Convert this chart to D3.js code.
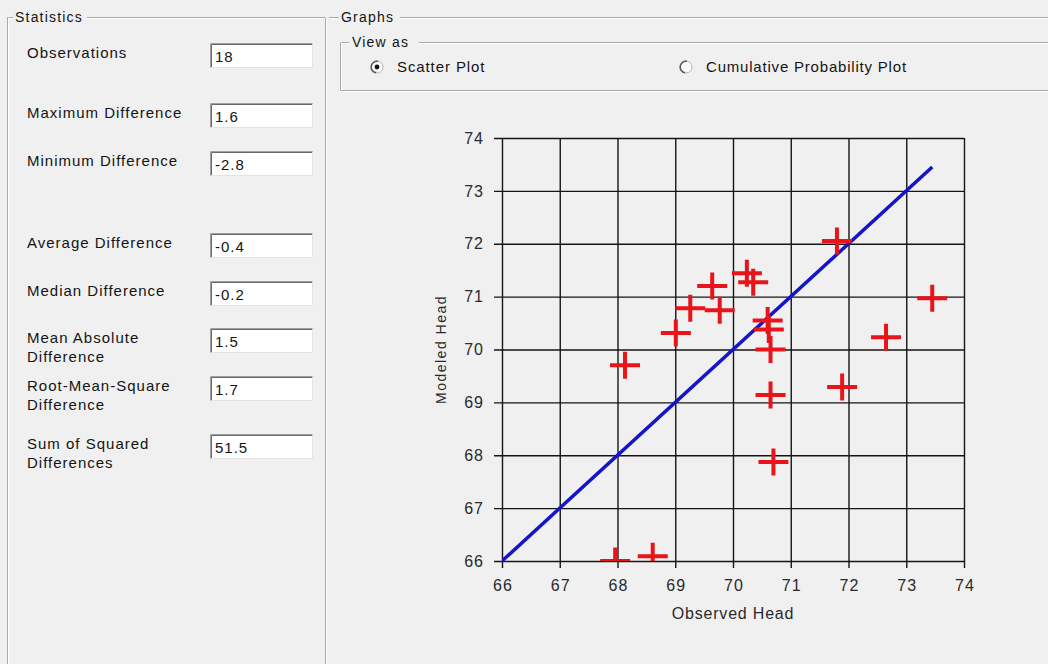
<!DOCTYPE html>
<html>
<head>
<meta charset="utf-8">
<script src="https://cdn.jsdelivr.net/npm/d3@7"></script>
<style>
  body { margin: 0; background: #f0f0f0; }
  svg { display: block; font-family: "Liberation Sans", Arial, sans-serif; }
</style>
</head>
<body>
<div class="canvas"></div>
<script>
// observed vs modeled heads
const observed = [71.8, 70.24, 70.35, 69.64, 69.26, 69.77, 69.01, 70.6, 70.62, 70.65, 70.65, 70.7, 73.45, 72.65, 71.89, 68.13, 67.96, 68.61];
const modeled = [72.05, 71.44, 71.27, 71.2, 70.78, 70.74, 70.31, 70.55, 70.38, 70.0, 69.14, 67.87, 70.97, 70.23, 69.29, 69.7, 66.0, 66.09];

const statNames = ['Observations', 'Maximum Difference', 'Minimum Difference', 'Average Difference',
  'Median Difference', 'Mean Absolute\nDifference', 'Root-Mean-Square\nDifference', 'Sum of Squared\nDifferences'];
const statValues = ['18', '1.6', '-2.8', '-0.4', '-0.2', '1.5', '1.7', '51.5'];

const xTicks = [66, 67, 68, 69, 70, 71, 72, 73, 74];
const yTicks = [66, 67, 68, 69, 70, 71, 72, 73, 74];
const viewOptions = ['Scatter Plot', 'Cumulative Probability Plot'];

// layout
const width = 1048, height = 664;
const rowTops = [43, 103, 151, 233, 281, 328, 376, 434];
const plot = { left: 502, right: 964, top: 138, bottom: 561 };
const ink = '#141414';

const svg = d3.select('.canvas')
  .append('svg')
  .attr('width', width)
  .attr('height', height);

svg.append('rect').attr('width', width).attr('height', height).attr('fill', '#f0f0f0');

// etched line helper (windows group box look)
const etched = (x1, y1, x2, y2) => {
  svg.append('line').attr('x1', x1).attr('y1', y1).attr('x2', x2).attr('y2', y2)
    .attr('stroke', '#a8a8a8').attr('stroke-width', 1);
  const dx = x1 === x2 ? 1 : 0, dy = y1 === y2 ? 1 : 0;
  svg.append('line').attr('x1', x1 + dx).attr('y1', y1 + dy).attr('x2', x2 + dx).attr('y2', y2 + dy)
    .attr('stroke', '#ffffff').attr('stroke-width', 1);
};

const label = (xPos, yPos, txt, size, spacing) =>
  svg.append('text').attr('x', xPos).attr('y', yPos).attr('dy', '0.35em')
    .attr('font-size', size).attr('letter-spacing', spacing).attr('fill', ink).text(txt);

// Statistics group box
etched(7.5, 17.5, 13, 17.5);
etched(87, 17.5, 325.5, 17.5);
etched(7.5, 17.5, 7.5, height);
etched(325.5, 17.5, 325.5, height);
label(15, 17, 'Statistics', 14, 1.2);

// Graphs group box
etched(329, 17.5, 339, 17.5);
etched(400, 17.5, width, 17.5);
label(341, 17, 'Graphs', 14, 1.2);

// View as group box
etched(340.5, 42.5, 349, 42.5);
etched(419, 42.5, width, 42.5);
etched(340.5, 42.5, 340.5, 90.5);
etched(340.5, 90.5, width, 90.5);
label(352, 42, 'View as', 14, 1.2);

// radio buttons
const radioX = [377, 686];
viewOptions.forEach((name, i) => {
  const g = svg.append('g').attr('transform', `translate(${radioX[i]}, 67)`);
  g.append('circle').attr('r', 6).attr('fill', '#fbfbfb').attr('stroke', '#b4b4b4').attr('stroke-width', 1);
  g.append('path').attr('d', d3.arc()({ innerRadius: 5, outerRadius: 6.6, startAngle: -Math.PI * 0.95, endAngle: Math.PI * 0.05 }))
    .attr('fill', '#5a5a5a');
  if (i === 0) g.append('circle').attr('r', 2.4).attr('fill', '#111');
  label(radioX[i] + 20, 67, name, 15, i === 0 ? 0.9 : 0.8);
});

// statistics rows
statNames.forEach((name, i) => {
  const top = rowTops[i];
  name.split('\n').forEach((line, j) => {
    label(27, top + 10 + j * 19, line, 15, 1);
  });
  const box = svg.append('g').attr('transform', `translate(210, ${top})`);
  box.append('rect').attr('width', 103).attr('height', 25).attr('fill', '#fff');
  box.append('path').attr('d', 'M0.5,25 V0.5 H103').attr('fill', 'none').attr('stroke', '#a0a0a0');
  box.append('path').attr('d', 'M1.5,24 V1.5 H102').attr('fill', 'none').attr('stroke', '#696969');
  box.append('path').attr('d', 'M0.5,24.5 H102.5 V0.5').attr('fill', 'none').attr('stroke', '#e3e3e3');
  box.append('text').attr('x', 5).attr('y', 14).attr('dy', '0.35em')
    .attr('font-size', 15).attr('letter-spacing', 1).attr('fill', ink).text(statValues[i]);
});

// scatter plot
const x = d3.scaleLinear().domain([66, 74]).range([plot.left, plot.right]);
const y = d3.scaleLinear().domain([66, 74]).range([plot.bottom, plot.top]);

const xAxis = svg.append('g')
  .attr('transform', `translate(0, ${plot.bottom + 7})`)
  .call(d3.axisBottom(x).tickValues(xTicks).tickFormat(d3.format('d'))
    .tickSize(-(plot.bottom + 7 - plot.top)).tickPadding(12));
const yAxis = svg.append('g')
  .attr('transform', `translate(${plot.left - 8}, 0)`)
  .call(d3.axisLeft(y).tickValues(yTicks).tickFormat(d3.format('d'))
    .tickSize(-(plot.right - plot.left + 8)).tickPadding(11));

[xAxis, yAxis].forEach((ax) => {
  ax.select('.domain').remove();
  ax.selectAll('line').attr('stroke', '#151515').attr('stroke-width', 1.4);
  ax.selectAll('text').attr('font-size', 16).attr('letter-spacing', 1).attr('fill', '#2a2a2a')
    .attr('font-family', '"Liberation Sans", Arial, sans-serif');
});
xAxis.selectAll('text').attr('dx', '0.5');
yAxis.selectAll('text').attr('dx', '1');

svg.append('text').attr('x', x(70)).attr('y', 613).attr('dy', '0.35em')
  .attr('text-anchor', 'middle').attr('font-size', 16).attr('letter-spacing', 0.8)
  .attr('fill', '#2a2a2a').text('Observed Head');
svg.append('text').attr('transform', `translate(441, ${y(70)}) rotate(-90)`).attr('dy', '0.35em')
  .attr('text-anchor', 'middle').attr('font-size', 14).attr('letter-spacing', 1.5)
  .attr('fill', '#2a2a2a').text('Modeled Head');

svg.append('clipPath').attr('id', 'plotClip')
  .append('rect').attr('x', plot.left).attr('y', plot.top)
  .attr('width', plot.right - plot.left).attr('height', plot.bottom - plot.top);

const graph = svg.append('g').attr('clip-path', 'url(#plotClip)');

// 1:1 line
const lineGen = d3.line().x((d) => x(d)).y((d) => y(d));
graph.append('path')
  .attr('d', lineGen([66, d3.max(observed)]))
  .attr('fill', 'none')
  .attr('stroke', '#1414c8')
  .attr('stroke-width', 3.5);

// red crosses
const points = observed.map((o, i) => ({ o, m: modeled[i] }));
graph.selectAll('path.cross')
  .data(points)
  .enter()
  .append('path')
  .attr('class', 'cross')
  .attr('d', (d) => {
    const cx = x(d.o), cy = y(d.m);
    return `M${cx - 15},${cy}H${cx + 15}M${cx},${cy - 13.5}V${cy + 13.5}`;
  })
  .attr('fill', 'none')
  .attr('stroke', '#e8141a')
  .attr('stroke-width', 4);
</script>
</body>
</html>
